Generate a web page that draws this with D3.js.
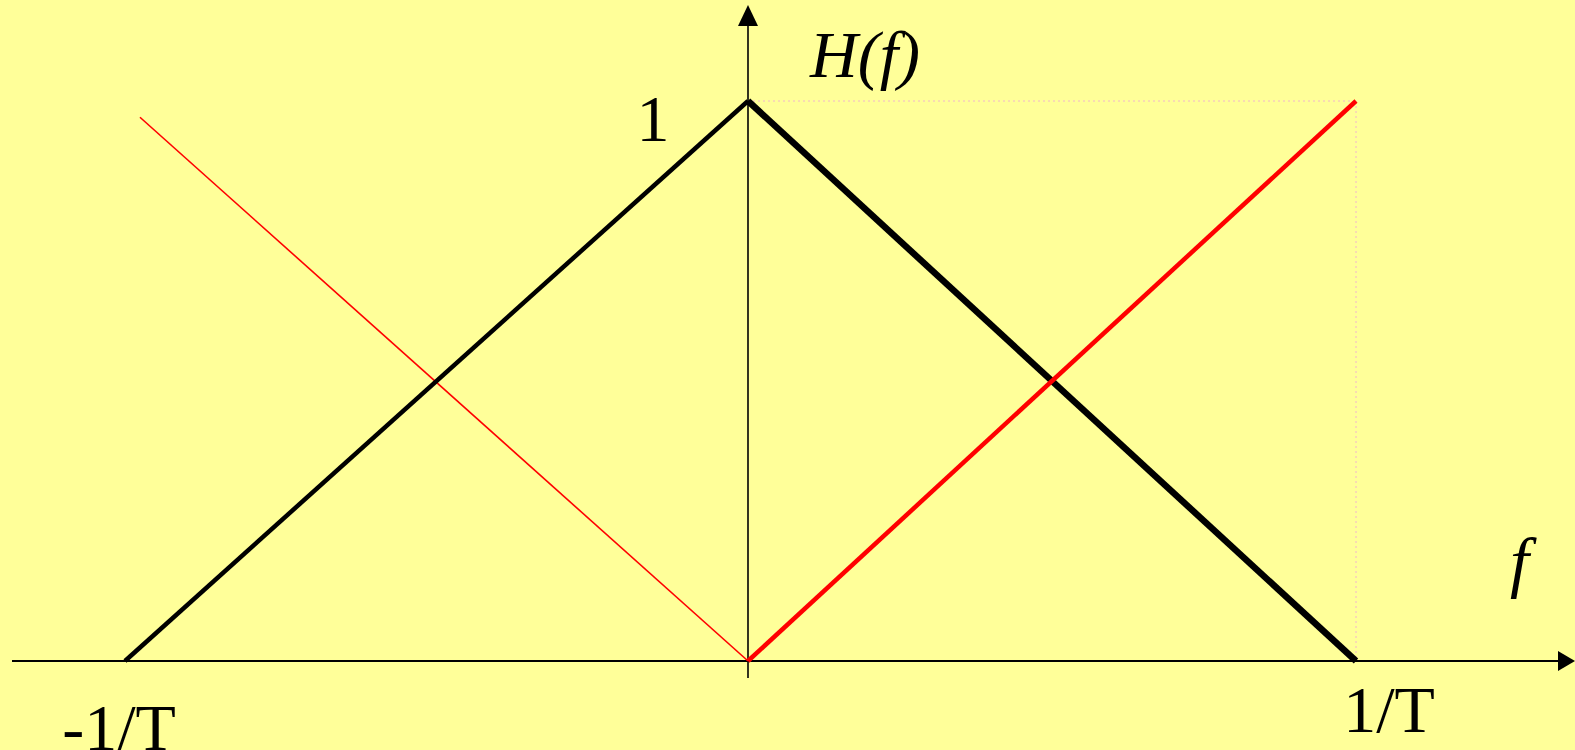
<!DOCTYPE html>
<html>
<head>
<meta charset="utf-8">
<script src="https://cdn.jsdelivr.net/npm/d3@7/dist/d3.min.js"></script>
<style>
  html, body { margin: 0; padding: 0; background: #ffff99; }
  svg { display: block; }
  text { font-family: "Liberation Serif", "Times New Roman", serif; fill: #000; }
</style>
</head>
<body>
<svg id="chart"></svg>
<script>
// frequency positions (in units of 1/T) and response values
const tickFreqs = [-1, 0, 1];
const tickLabels = ["-1/T", "", "1/T"];

const blackLeftF = [-1, 0];
const blackLeftH = [0, 1];
const blackRightF = [0, 1];
const blackRightH = [1, 0];

const redThinF = [0, -0.976];
const redThinH = [0, 0.971];
const redThickF = [0, 1];
const redThickH = [0, 1];

const W = 1575, H = 750;
const svg = d3.select("#chart").attr("width", W).attr("height", H);

const x = d3.scaleLinear().domain([-1, 0, 1]).range([125, 748, 1356]);
const y = d3.scaleLinear().domain([0, 1]).range([661, 101]);

svg.append("rect").attr("width", W).attr("height", H).attr("fill", "#ffff99");

// dotted guides to the (1/T, 1) corner
const guide = svg.append("g").attr("stroke", "#f2b6cc").attr("stroke-width", 1).attr("stroke-dasharray", "2,3");
guide.append("line").attr("x1", x(0)).attr("x2", x(1)).attr("y1", y(1)).attr("y2", y(1));
guide.append("line").attr("x1", x(1)).attr("x2", x(1)).attr("y1", y(1)).attr("y2", y(0));

// axes
svg.append("line").attr("x1", 12).attr("x2", 1562).attr("y1", y(0)).attr("y2", y(0)).attr("stroke", "#000").attr("stroke-width", 2);
svg.append("path").attr("d", `M1575,${y(0)} L1558,${y(0) - 10} L1558,${y(0) + 10} Z`).attr("fill", "#000");
svg.append("line").attr("x1", x(0)).attr("x2", x(0)).attr("y1", 678).attr("y2", 22).attr("stroke", "#000").attr("stroke-width", 1.6);
svg.append("path").attr("d", `M${x(0)},5 L${x(0) - 10},26 L${x(0) + 10},26 Z`).attr("fill", "#000");

const line = d3.line().x(d => x(d[0])).y(d => y(d[1]));
const pts = (fs, hs) => fs.map((f, i) => [f, hs[i]]);

svg.append("path").attr("d", line(pts(redThinF, redThinH))).attr("fill", "none").attr("stroke", "#ff0000").attr("stroke-width", 1.6);
svg.append("path").attr("d", line(pts(blackLeftF, blackLeftH))).attr("fill", "none").attr("stroke", "#000").attr("stroke-width", 4.5);
svg.append("path").attr("d", line(pts(blackRightF, blackRightH))).attr("fill", "none").attr("stroke", "#000").attr("stroke-width", 6.5);
svg.append("path").attr("d", line(pts(redThickF, redThickH))).attr("fill", "none").attr("stroke", "#ff0000").attr("stroke-width", 4.5);

// tick labels
svg.selectAll("text.tick").data(tickFreqs.filter((f, i) => tickLabels[i])).join("text")
  .attr("class", "tick")
  .attr("x", f => f < 0 ? x(f) - 6 : x(f) + 33)
  .attr("y", f => f < 0 ? 750 : 732)
  .attr("text-anchor", "middle")
  .attr("font-size", 66)
  .text(f => tickLabels[tickFreqs.indexOf(f)]);

svg.append("text").attr("x", 653).attr("y", 141).attr("text-anchor", "middle").attr("font-size", 66).text("1");
svg.append("text").attr("x", 810).attr("y", 77).attr("font-size", 66).attr("font-style", "italic").text("H(f)");
svg.append("text").attr("x", 1510).attr("y", 585).attr("font-size", 68).attr("font-style", "italic").text("f");
</script>
</body>
</html>
